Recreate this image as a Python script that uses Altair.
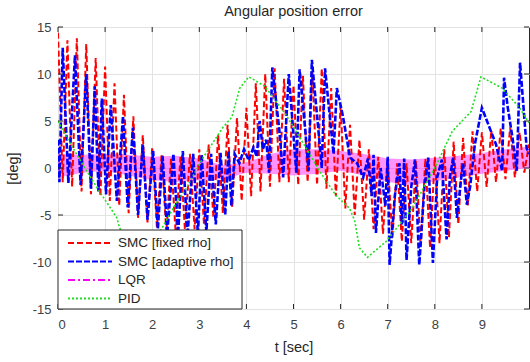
import altair as alt
import numpy as np
import pandas as pd

SERIES = ["SMC [fixed rho]", "SMC [adaptive rho]", "LQR", "PID"]
COLORS = ["#ff0000", "#0000ff", "#ff00ff", "#22dd22"]
DASHES = [[6, 3], [6, 2], [7, 3, 2, 3], [2, 2]]

# SMC fixed rho: values sampled every 0.1 s (alternating peaks / troughs)
red_vals = [14.4, -1.5, 13.6, -2.0, 13.8, -2.5, 13.2, -2.8, 11.7, -3.0,
            10.8, -3.5, 9.0, -4.0, 7.8, -4.8, 5.5, -5.3, 3.5, -5.8,
            2.2, -6.3, 1.5, -6.8, 1.0, -7.0, 1.2, -7.0, 1.5, -6.5,
            2.0, -6.0, 2.5, -5.3, 3.5, -4.8, 4.6, -4.2, 5.3, -3.5,
            6.4, -3.0, 9.0, -2.5, 10.0, -2.0, 10.6, -1.5, 9.5, -1.5,
            8.8, -1.8, 9.8, -1.5, 10.3, -1.8, 10.6, -2.2, 8.5, -3.0,
            6.7, -4.3, 4.6, -5.0, 3.0, -5.5, 2.0, -6.5, 1.2, -7.0,
            0.8, -7.5, 0.5, -7.8, 0.5, -8.0, 0.8, -8.3, 1.0, -8.5,
            1.2, -8.0, 2.0, -7.4, 2.8, -6.0, 3.2, -4.0, 3.9, -2.5,
            3.8, -2.0, 4.0, -1.5, 4.2, -1.2, 4.3, -1.0, 3.8, -0.5,
            2.5]
red_t = np.round(np.arange(len(red_vals)) * 0.1, 2)

# SMC adaptive rho: (t, value)
blue_points = [
    (0.00, 3.0), (0.03, -1.5), (0.10, 12.8), (0.22, -1.6), (0.36, 12.0), (0.48, -1.8),
    (0.60, 10.0), (0.70, -2.2), (0.78, 8.7), (0.86, -2.5), (0.93, 7.4), (1.02, -2.8),
    (1.12, 6.7), (1.25, -3.5), (1.38, 5.5), (1.48, -4.2), (1.59, 4.3), (1.70, -5.0),
    (1.80, 2.5), (1.90, -5.5), (2.02, 1.8), (2.12, -6.5), (2.22, 1.3), (2.32, -7.0),
    (2.45, 1.5), (2.55, -7.0), (2.65, 1.8), (2.75, -7.2), (2.87, 1.5), (2.97, -7.0),
    (3.05, 1.4), (3.15, -6.8), (3.25, 1.5), (3.35, -6.0), (3.45, 1.6), (3.55, -5.0),
    (3.62, 1.8), (3.68, -4.0), (3.75, 1.5), (3.85, 0.5), (3.95, 2.0), (4.05, 0.8),
    (4.15, 2.2), (4.22, 1.2), (4.28, 5.0), (4.35, 2.0), (4.42, 3.0), (4.48, -0.5),
    (4.55, 10.7), (4.70, 4.0), (4.78, -1.0), (4.90, 10.0), (5.00, 3.5), (5.06, -0.5),
    (5.13, 10.5), (5.25, 4.0), (5.32, -0.3), (5.39, 11.5), (5.52, 4.5), (5.60, 0.0),
    (5.67, 10.6), (5.78, 5.0), (5.85, 1.5), (5.92, 8.5), (6.05, 5.5), (6.20, 1.1),
    (6.35, 0.5), (6.48, -1.0), (6.58, 1.0), (6.66, -3.0), (6.70, 1.4), (6.75, -6.9),
    (6.85, 0.0), (6.95, -4.0), (7.00, 1.2), (7.04, -10.3), (7.15, -3.0), (7.25, 0.5),
    (7.30, -6.0), (7.35, 1.0), (7.40, -9.8), (7.50, -2.0), (7.58, 0.9), (7.67, -10.3),
    (7.78, -2.0), (7.86, 1.1), (7.96, -10.1), (8.05, -1.0), (8.15, 0.9), (8.25, -7.6),
    (8.32, -1.0), (8.39, 1.1), (8.47, -5.3), (8.55, -1.5), (8.60, 0.5), (8.68, -3.9),
    (8.75, -2.0), (8.85, 2.5), (9.00, 6.4), (9.10, 5.1), (9.30, 2.5), (9.43, -0.3),
    (9.47, 9.6), (9.55, 6.4), (9.65, 3.2), (9.74, -0.3), (9.81, 11.2), (9.88, 6.7),
    (9.95, 2.1), (10.0, 1.5),
]

# PID: (t, value)
pid_points = [
    (0.00, 5.0), (0.19, 3.2), (0.57, 0.0), (0.83, -2.1), (1.25, -5.3), (1.31, -6.4),
    (1.60, -8.5), (1.90, -9.0), (2.22, -6.3), (2.50, -3.8), (2.73, -2.1), (3.08, 1.1),
    (3.50, 4.3), (3.69, 5.4), (3.86, 8.5), (4.05, 9.7), (4.39, 8.7), (4.85, 5.6),
    (5.27, 2.1), (5.55, -0.3), (5.90, -2.9), (6.19, -4.3), (6.30, -5.6), (6.40, -8.5),
    (6.57, -9.5), (6.97, -7.8), (7.52, -4.3), (8.03, 0.3), (8.37, 3.9), (8.77, 6.0),
    (8.98, 9.7), (9.43, 8.5), (9.80, 6.4), (10.0, 4.8),
]

# LQR: fast oscillation drawn as its band (t, upper, lower)
lqr_band = [
    (0.0, 1.5, -1.0), (0.5, 1.4, -0.5), (1.0, 1.5, -0.3), (1.5, 1.4, -0.8),
    (2.0, 1.2, -1.3), (2.5, 1.3, -1.5), (3.0, 1.0, -1.3), (3.5, 0.3, -1.2),
    (4.0, 0.6, -0.5), (4.5, 1.5, -0.6), (5.0, 2.0, -0.8), (5.5, 2.0, -0.6),
    (6.0, 1.8, -0.3), (6.5, 1.5, -0.8), (7.0, 1.0, -1.5), (7.5, 0.9, -1.8),
    (8.0, 1.1, -1.4), (8.5, 1.3, -1.0), (9.0, 1.6, -0.6), (9.5, 2.0, -0.3),
    (10.0, 2.3, 0.0),
]

x_ticks = [0, 1, 2, 3, 4, 5, 6, 7, 8, 9]
y_ticks = [-15, -10, -5, 0, 5, 10, 15]

W, H = 471, 282
FONT = "Liberation Sans"

red_df = pd.DataFrame({"t": red_t, "val": red_vals})
blue_df = pd.DataFrame(blue_points, columns=["t", "val"])
pid_df = pd.DataFrame(pid_points, columns=["t", "val"])
lqr_df = pd.DataFrame(lqr_band, columns=["t", "val", "lo"])

x_axis = alt.Axis(values=x_ticks, title="t [sec]", grid=True, gridColor="#e3e3e3",
                  ticks=False, domain=False, labelFontSize=13, labelColor="#404040",
                  labelPadding=9, labelFont=FONT, titleFont=FONT, titleFontSize=14.5,
                  titleFontWeight="normal", titleColor="#262626", titlePadding=9)
y_axis = alt.Axis(values=y_ticks, title="[deg]", grid=True, gridColor="#e3e3e3",
                  ticks=False, domain=False, labelFontSize=13, labelColor="#404040",
                  labelPadding=7, labelFont=FONT, titleFont=FONT, titleFontSize=14.5,
                  titleFontWeight="normal", titleColor="#262626", titlePadding=12,
                  labelExpr="'' + datum.value")

xs = alt.Scale(domain=[0, 10], nice=False, zero=False)
ys = alt.Scale(domain=[-15, 15], nice=False, zero=False)


def X():
    return alt.X("t:Q", scale=xs, axis=x_axis)


def Y():
    return alt.Y("val:Q", scale=ys, axis=y_axis)


lqr = alt.Chart(lqr_df).mark_area(color=COLORS[2], opacity=0.42, clip=True).encode(
    x=X(), y=Y(), y2="lo:Q")
red = alt.Chart(red_df).mark_line(color=COLORS[0], strokeDash=DASHES[0], strokeWidth=2,
                                  clip=True).encode(x=X(), y=Y())
blue = alt.Chart(blue_df).mark_line(color=COLORS[1], strokeDash=DASHES[1], strokeWidth=2.6,
                                    clip=True).encode(x=X(), y=Y())
pid = alt.Chart(pid_df).mark_line(color=COLORS[3], strokeDash=DASHES[3], strokeWidth=1.6,
                                  clip=True).encode(x=X(), y=Y())

xt = pd.DataFrame({"t": x_ticks})
yt = pd.DataFrame({"val": y_ticks})
tick_style = dict(color="#262626", strokeWidth=1)
xb = alt.Chart(xt).mark_rule(**tick_style).encode(x=X(), y=alt.value(H), y2=alt.value(H - 5))
xtop = alt.Chart(xt).mark_rule(**tick_style).encode(x=X(), y=alt.value(0), y2=alt.value(5))
yl = alt.Chart(yt).mark_rule(**tick_style).encode(y=Y(), x=alt.value(0), x2=alt.value(5))
yr = alt.Chart(yt).mark_rule(**tick_style).encode(y=Y(), x=alt.value(W), x2=alt.value(W - 5))

# legend box drawn by hand (inside the plot, lower left)
one = pd.DataFrame({"k": [0]})
LEG_TOP, LEG_W = 203, 184
ROW0, ROW_STEP = 216, 18.5
legend_layers = [
    alt.Chart(one).mark_rect(fill="white", stroke="#262626", strokeWidth=1).encode(
        x=alt.value(0), x2=alt.value(LEG_W), y=alt.value(LEG_TOP), y2=alt.value(H))
]
for i, name in enumerate(SERIES):
    yy = ROW0 + ROW_STEP * i
    legend_layers.append(
        alt.Chart(one).mark_rule(color=COLORS[i], strokeDash=DASHES[i], strokeWidth=2).encode(
            x=alt.value(10), x2=alt.value(54), y=alt.value(yy)))
    legend_layers.append(
        alt.Chart(pd.DataFrame({"label": [name]})).mark_text(
            align="left", baseline="middle", font=FONT, fontSize=13.5, color="#262626").encode(
            x=alt.value(60), y=alt.value(yy), text="label:N"))

chart = alt.layer(lqr, red, blue, pid, xb, xtop, yl, yr, *legend_layers).properties(
    width=W, height=H,
    title=alt.TitleParams("Angular position error", fontSize=14.5, fontWeight="normal",
                          color="#262626", font=FONT, offset=2, anchor="middle"),
    padding={"left": 58, "top": 27, "right": 1, "bottom": 53},
    autosize=alt.AutoSizeParams(type="none"),
    background="white",
).configure_view(stroke="#262626", strokeWidth=1)

chart.save("out.html", embed_options={"renderer": "svg", "actions": False})
